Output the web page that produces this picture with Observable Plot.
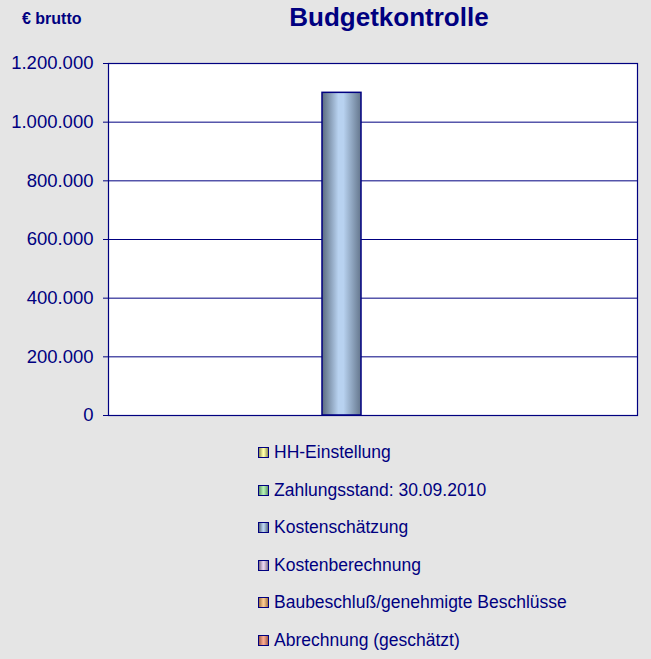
<!DOCTYPE html>
<html>
<head>
<meta charset="utf-8">
<script src="https://cdn.jsdelivr.net/npm/d3@7"></script>
<script src="https://cdn.jsdelivr.net/npm/@observablehq/plot@0.6"></script>
<style>
  html, body { margin: 0; padding: 0; background: #e5e5e5; }
  #wrap { position: relative; width: 651px; height: 659px; background: #e5e5e5; font-family: "Liberation Sans", Arial, sans-serif; color: #000080; overflow: hidden; }
  .abs { position: absolute; white-space: nowrap; }
  #chart { position: absolute; left: 0; top: 0; }
  .sw { position: absolute; width: 9px; height: 9px; border: 1px solid #000080; }
</style>
</head>
<body>
<div id="wrap">
  <div id="chart"></div>
</div>
<script>
const title = "Budgetkontrolle";
const unitLabel = "€ brutto";
const series = ["HH-Einstellung", "Zahlungsstand: 30.09.2010", "Kostenschätzung", "Kostenberechnung", "Baubeschluß/genehmigte Beschlüsse", "Abrechnung (geschätzt)"];
const values = [0, 0, 1100000, 0, 0, 0];
const yTicks = [0, 200000, 400000, 600000, 800000, 1000000, 1200000];
const swatchCenter = ["#ffffa8", "#b4f0b4", "#b8d2f0", "#e8d2ee", "#f8c890", "#f8a890"];
const swatchEdge = ["#8c8c50", "#5e9268", "#5a6a7e", "#807088", "#a07040", "#a05a48"];

const navy = "#000080";
const de = d3.formatLocale({decimal: ",", thousands: ".", grouping: [3], currency: ["", " €"]});
const fmt = de.format(",d");

const data = series.map((s, i) => ({series: s, value: values[i]})).filter(d => d.value > 0);
const gradIds = series.map((s, i) => "grad" + i);

const plot = Plot.plot({
  width: 651,
  height: 435,
  marginTop: 63,
  marginBottom: 20,
  marginLeft: 108,
  marginRight: 14,
  style: {background: "transparent", color: navy, fontFamily: "Liberation Sans, Arial, sans-serif", fontSize: "18px"},
  x: {type: "band", domain: series, range: [195, 550], paddingInner: 0.365, paddingOuter: 0, axis: null},
  y: {domain: [0, 1200000], axis: null},
  color: {type: "ordinal", domain: series, range: gradIds.map(id => `url(#${id})`)},
  marks: [
    Plot.frame({fill: "white", stroke: "none"}),
    Plot.ruleY(yTicks, {stroke: navy, strokeWidth: 1}),
    Plot.barY(data, {x: "series", y: "value", fill: "series", stroke: navy, strokeWidth: 1.5}),
    Plot.frame({stroke: navy, strokeWidth: 1.2}),
    Plot.axisY({ticks: yTicks, tickFormat: fmt, label: null, tickSize: 5, tickPadding: 10, fontSize: 18.5, stroke: navy, fill: navy})
  ]
});

const svg = d3.select(plot);
const defs = svg.insert("defs", ":first-child");
series.forEach((s, i) => {
  const g = defs.append("linearGradient").attr("id", gradIds[i]).attr("x1", "0%").attr("x2", "100%").attr("y1", "0%").attr("y2", "0%");
  g.append("stop").attr("offset", "0%").attr("stop-color", swatchEdge[i]);
  g.append("stop").attr("offset", "42%").attr("stop-color", swatchCenter[i]);
  g.append("stop").attr("offset", "55%").attr("stop-color", swatchCenter[i]);
  g.append("stop").attr("offset", "100%").attr("stop-color", d3.color(swatchEdge[i]).brighter(0.3).formatHex());
});
document.getElementById("chart").appendChild(plot);

const wrap = d3.select("#wrap");
wrap.append("div").attr("class", "abs")
  .style("left", "0px").style("width", "651px").style("top", "2px")
  .style("text-align", "center").style("padding-left", "127px").style("box-sizing", "border-box")
  .style("font-size", "26px").style("font-weight", "bold").text(title);
wrap.append("div").attr("class", "abs")
  .style("left", "22px").style("top", "10px")
  .style("font-size", "16px").style("font-weight", "bold").text(unitLabel);

series.forEach((s, i) => {
  const top = 447 + i * 37.6;
  wrap.append("div").attr("class", "sw")
    .style("left", "258px").style("top", top + "px")
    .style("background", `linear-gradient(to right, ${swatchEdge[i]}, ${swatchCenter[i]} 45%, ${swatchCenter[i]} 55%, ${swatchEdge[i]})`);
  wrap.append("div").attr("class", "abs")
    .style("left", "274px").style("top", (top - 5) + "px")
    .style("font-size", "17.5px").style("line-height", "20px").text(s);
});
</script>
</body>
</html>
